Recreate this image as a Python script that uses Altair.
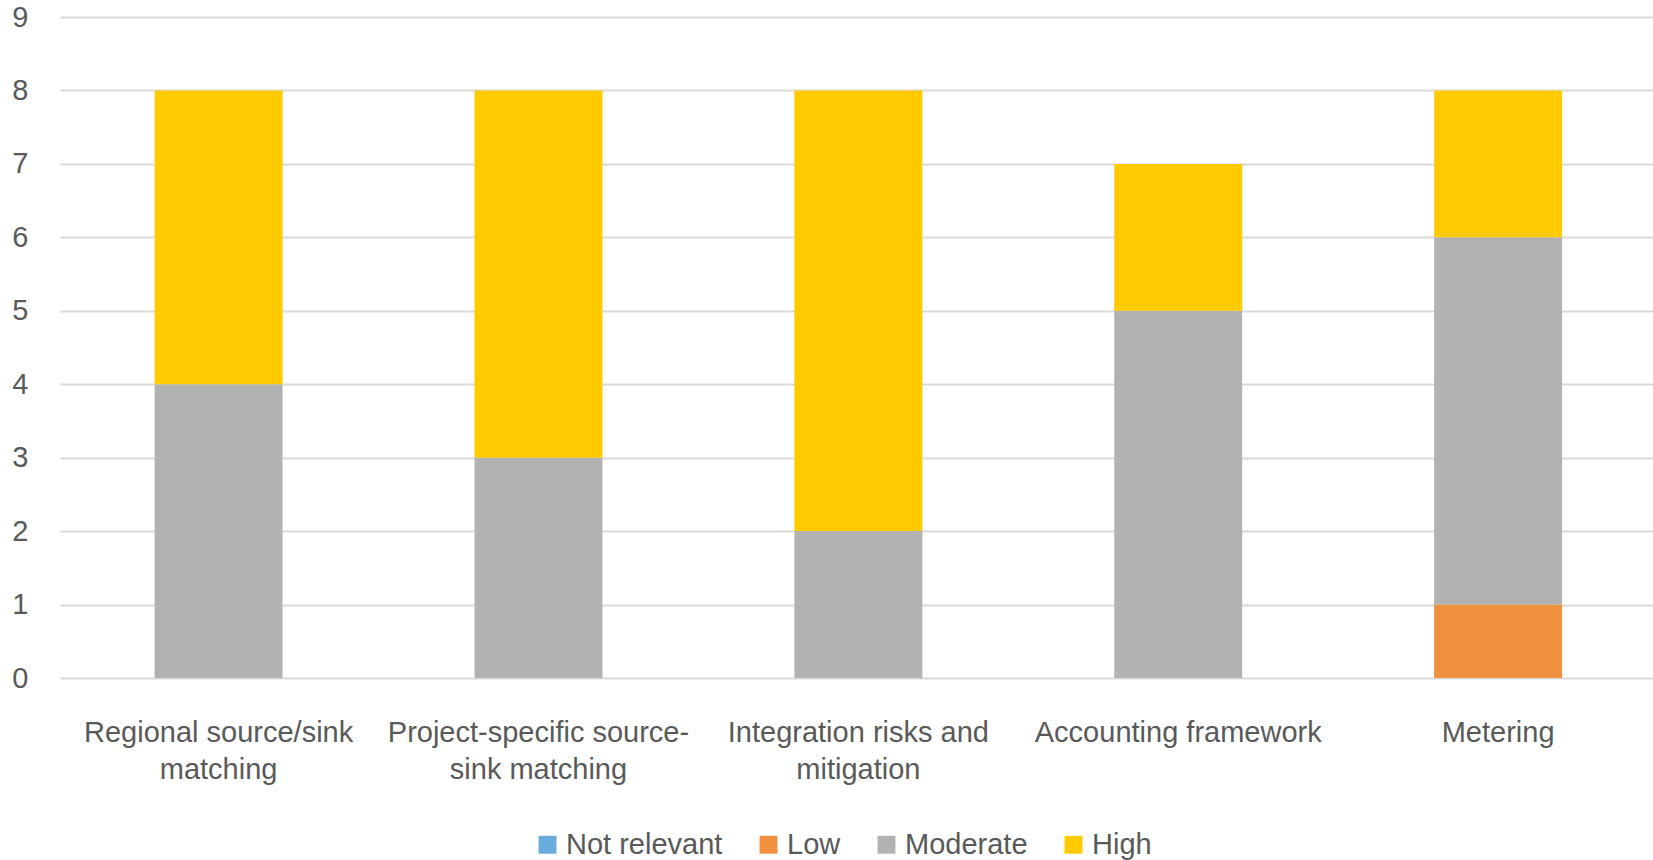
import altair as alt
import pandas as pd

# Capability areas along the x axis, with their wrapped label lines
categories = [
    "Regional source/sink matching",
    "Project-specific source-sink matching",
    "Integration risks and mitigation",
    "Accounting framework",
    "Metering",
]
label_lines = [
    ["Regional source/sink", "matching"],
    ["Project-specific source-", "sink matching"],
    ["Integration risks and", "mitigation"],
    ["Accounting framework"],
    ["Metering"],
]

# Number of responses per relevance level
levels = ["Not relevant", "Low", "Moderate", "High"]
not_relevant = [0, 0, 0, 0, 0]
low = [0, 0, 0, 0, 1]
moderate = [4, 3, 2, 5, 5]
high = [4, 5, 6, 2, 2]

colors = ["#6AABDD", "#F1913F", "#B2B2B2", "#FFCA00"]

rows = []
for series, level in zip([not_relevant, low, moderate, high], levels):
    for cat, v in zip(categories, series):
        rows.append({"category": cat, "level": level, "order": levels.index(level), "count": v})
df = pd.DataFrame(rows)

# Build a label expression that maps each category to its wrapped lines
expr = "''"
for cat, lines in reversed(list(zip(categories, label_lines))):
    arr = "[" + ",".join("'" + l + "'" for l in lines) + "]"
    expr = f"datum.value == '{cat}' ? {arr} : ({expr})"

FONT = "Liberation Sans"
TXT = "#595959"

chart = (
    alt.Chart(df)
    .mark_bar()
    .encode(
        x=alt.X(
            "category:N",
            sort=categories,
            title=None,
            scale=alt.Scale(paddingInner=0.6, paddingOuter=0.29, align=0.51),
            axis=alt.Axis(
                labelExpr=expr,
                labelAngle=0,
                labelFont=FONT,
                labelFontSize=29,
                labelColor=TXT,
                labelLineHeight=37,
                labelPadding=40,
                labelLimit=0,
                ticks=False,
                domain=False,
                grid=False,
            ),
        ),
        y=alt.Y(
            "count:Q",
            stack="zero",
            title=None,
            scale=alt.Scale(domain=[0, 9], nice=False),
            axis=alt.Axis(
                values=list(range(10)),
                labelFont=FONT,
                labelFontSize=29,
                labelColor=TXT,
                labelPadding=32,
                ticks=False,
                domain=False,
                gridColor="#D9D9D9",
                gridWidth=1.8,
            ),
        ),
        color=alt.Color(
            "level:N",
            scale=alt.Scale(domain=levels, range=colors),
            legend=alt.Legend(
                title=None,
                orient="none",
                direction="horizontal",
                legendX=473,
                legendY=813,
                symbolType="square",
                symbolSize=320,
                symbolStrokeWidth=0,
                labelFont=FONT,
                labelFontSize=29,
                labelColor=TXT,
                labelOffset=4,
                columnPadding=31,
                padding=0,
            ),
        ),
        order=alt.Order("order:Q", sort="ascending"),
    )
    .properties(
        width=1593,
        height=661,
        padding={"left": 60, "top": 17, "right": 0, "bottom": 182},
        autosize=alt.AutoSizeParams(type="none"),
    )
    .configure(background="white")
    .configure_view(stroke="transparent", strokeWidth=0)
)

chart.save("out.html", embed_options={"renderer": "svg", "actions": False})
